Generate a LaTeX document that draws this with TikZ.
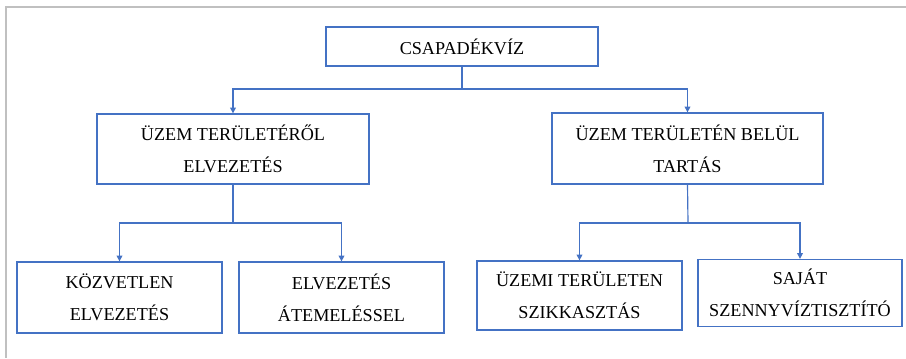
\documentclass[tikz,border=0pt]{standalone}
\usepackage{fontspec}
\setmainfont{Liberation Serif}
\usetikzlibrary{arrows.meta}
\definecolor{boxblue}{RGB}{68,114,196}
\definecolor{framegray}{RGB}{192,192,192}

\begin{document}
\begin{tikzpicture}[x=0.03cm,y=-0.03cm,
    box/.style={draw=boxblue, line width=1.1pt, align=center, inner sep=0pt,
      font=\fontsize{15.5}{27}\selectfont},
    link/.style={draw=boxblue, line width=1pt},
    linkarrow/.style={link, -{Triangle[length=5pt,width=5pt]}}]
    \useasboundingbox (0,0) rectangle (906,358);
    % Frame (only top and left edge)
    \draw [framegray, line width=1.7pt] (906,7) -- (6,7) -- (6,358);
    % Top level
    \node[box, minimum width=8.16cm, minimum height=1.17cm] (csap) at (462,46.5) {CSAPADÉKVÍZ};
    % Second level
    \node[box, minimum width=8.16cm, minimum height=2.1cm] (elvez) at (233,149) {ÜZEM TERÜLETÉRŐL\\ELVEZETÉS};
    \node[box, minimum width=8.13cm, minimum height=2.13cm] (tartas) at (687.5,148.5) {ÜZEM TERÜLETÉN BELÜL\\TARTÁS};
    % Third level
    \node[box, minimum width=6.15cm, minimum height=2.13cm] (kozv) at (119.5,297.5) {KÖZVETLEN\\ELVEZETÉS};
    \node[box, minimum width=6.15cm, minimum height=2.13cm] (atem) at (341.5,297.5) {ELVEZETÉS\\ÁTEMELÉSSEL};
    \node[box, minimum width=6.15cm, minimum height=2.07cm] (szikk) at (579.5,295.5) {ÜZEMI TERÜLETEN\\SZIKKASZTÁS};
    \node[box, minimum width=6.12cm, minimum height=2.01cm] (sajat) at (800,293) {SAJÁT\\SZENNYVÍZTISZTÍTÓ};
    % Connectors
    \coordinate (bus1) at (462,89);
    \coordinate (bus2) at (233,223);
    \coordinate (bus3) at (688,223);
    \draw[link] (csap.south) -- (bus1);
    \draw[linkarrow] (bus1) -| (elvez.north);
    \draw[linkarrow] (bus1) -| (tartas.north);
    \draw[link] (elvez.south) -- (bus2);
    \draw[linkarrow] (bus2) -| (kozv.north);
    \draw[linkarrow] (bus2) -| (atem.north);
    \draw[link] (tartas.south) -- (bus3);
    \draw[linkarrow] (bus3) -| (szikk.north);
    \draw[linkarrow] (bus3) -| (sajat.north);
\end{tikzpicture}
\end{document}
